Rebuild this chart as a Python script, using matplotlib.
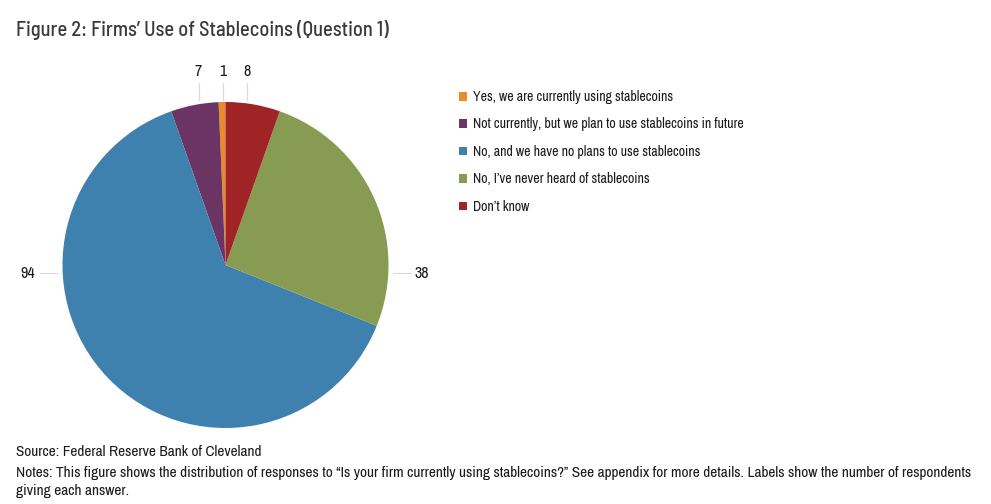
import matplotlib.pyplot as plt
from matplotlib.patches import Patch

plt.rcParams['font.family'] = ['Archivo Narrow', 'DejaVu Sans']

categories = [
    'Yes, we are currently using stablecoins',
    'Not currently, but we plan to use stablecoins in future',
    'No, and we have no plans to use stablecoins',
    "No, I\u2019ve never heard of stablecoins",
    "Don\u2019t know",
]
counts = [1, 7, 94, 38, 8]
colors = ['#E98B2A', '#6B3465', '#3E80AE', '#879B53', '#A02326']

# label placement (pie radius = 1): text xy, leader line start/end
label_pos = [(-0.015, 1.19), (-0.17, 1.19), (-1.17, -0.05), (1.16, -0.05), (0.132, 1.19)]
line_pos = [((-0.015, 1.117), (-0.015, 1.012)),
            ((-0.163, 1.117), (-0.163, 1.012)),
            ((-1.138, -0.05), (-1.034, -0.05)),
            ((1.028, -0.05), (1.138, -0.05)),
            ((0.132, 1.117), (0.132, 1.012))]
label_ha = ['center', 'center', 'right', 'left', 'center']

W, H = 991, 504
fig = plt.figure(figsize=(W / 100, H / 100), dpi=100, facecolor='white')

cx, cy, r = 225.5, 265, 163
ax = fig.add_axes([(cx - r) / W, (H - cy - r) / H, 2 * r / W, 2 * r / H])
wedges, _ = ax.pie(counts, colors=colors, startangle=90, counterclock=True,
                   radius=1, wedgeprops=dict(linewidth=0))
ax.set_xlim(-1, 1)
ax.set_ylim(-1, 1)
ax.set_aspect('equal')
ax.axis('off')

for n, (tx, ty), (p0, p1), ha in zip(counts, label_pos, line_pos, label_ha):
    ax.plot([p0[0], p1[0]], [p0[1], p1[1]], color='#D9D9D9', lw=0.8, clip_on=False)
    ax.text(tx, ty, str(n), ha=ha, va='center', fontsize=11.5, color='#1a1a1a',
            clip_on=False)

handles = [Patch(facecolor=c, edgecolor='none') for c in colors]
fig.legend(handles, categories, loc='upper left', bbox_to_anchor=(459 / W, 1 - 90 / H),
           frameon=False, fontsize=10, handlelength=0.6, handleheight=0.6,
           handletextpad=0.4, labelspacing=0.97, borderaxespad=0, borderpad=0,
           labelcolor='#1a1a1a')

fig.text(16 / W, 1 - 30 / H, 'Figure 2: Firms\u2019 Use of Stablecoins (Question 1)',
         fontsize=14.7, color='#3a3a3a', va='center', ha='left',
         family=['Barlow Semi Condensed', 'DejaVu Sans'], fontweight=500)
fig.text(16 / W, 1 - 452 / H, 'Source: Federal Reserve Bank of Cleveland',
         fontsize=11, color='#1a1a1a', va='center')
fig.text(16 / W, 1 - 473 / H,
         'Notes: This figure shows the distribution of responses to \u201cIs your firm currently using '
         'stablecoins?\u201d See appendix for more details. Labels show the number of respondents',
         fontsize=11.05, color='#1a1a1a', va='center')
fig.text(16 / W, 1 - 491 / H, 'giving each answer.',
         fontsize=11.05, color='#1a1a1a', va='center')

fig.savefig('out.png', dpi=100, facecolor='white')
